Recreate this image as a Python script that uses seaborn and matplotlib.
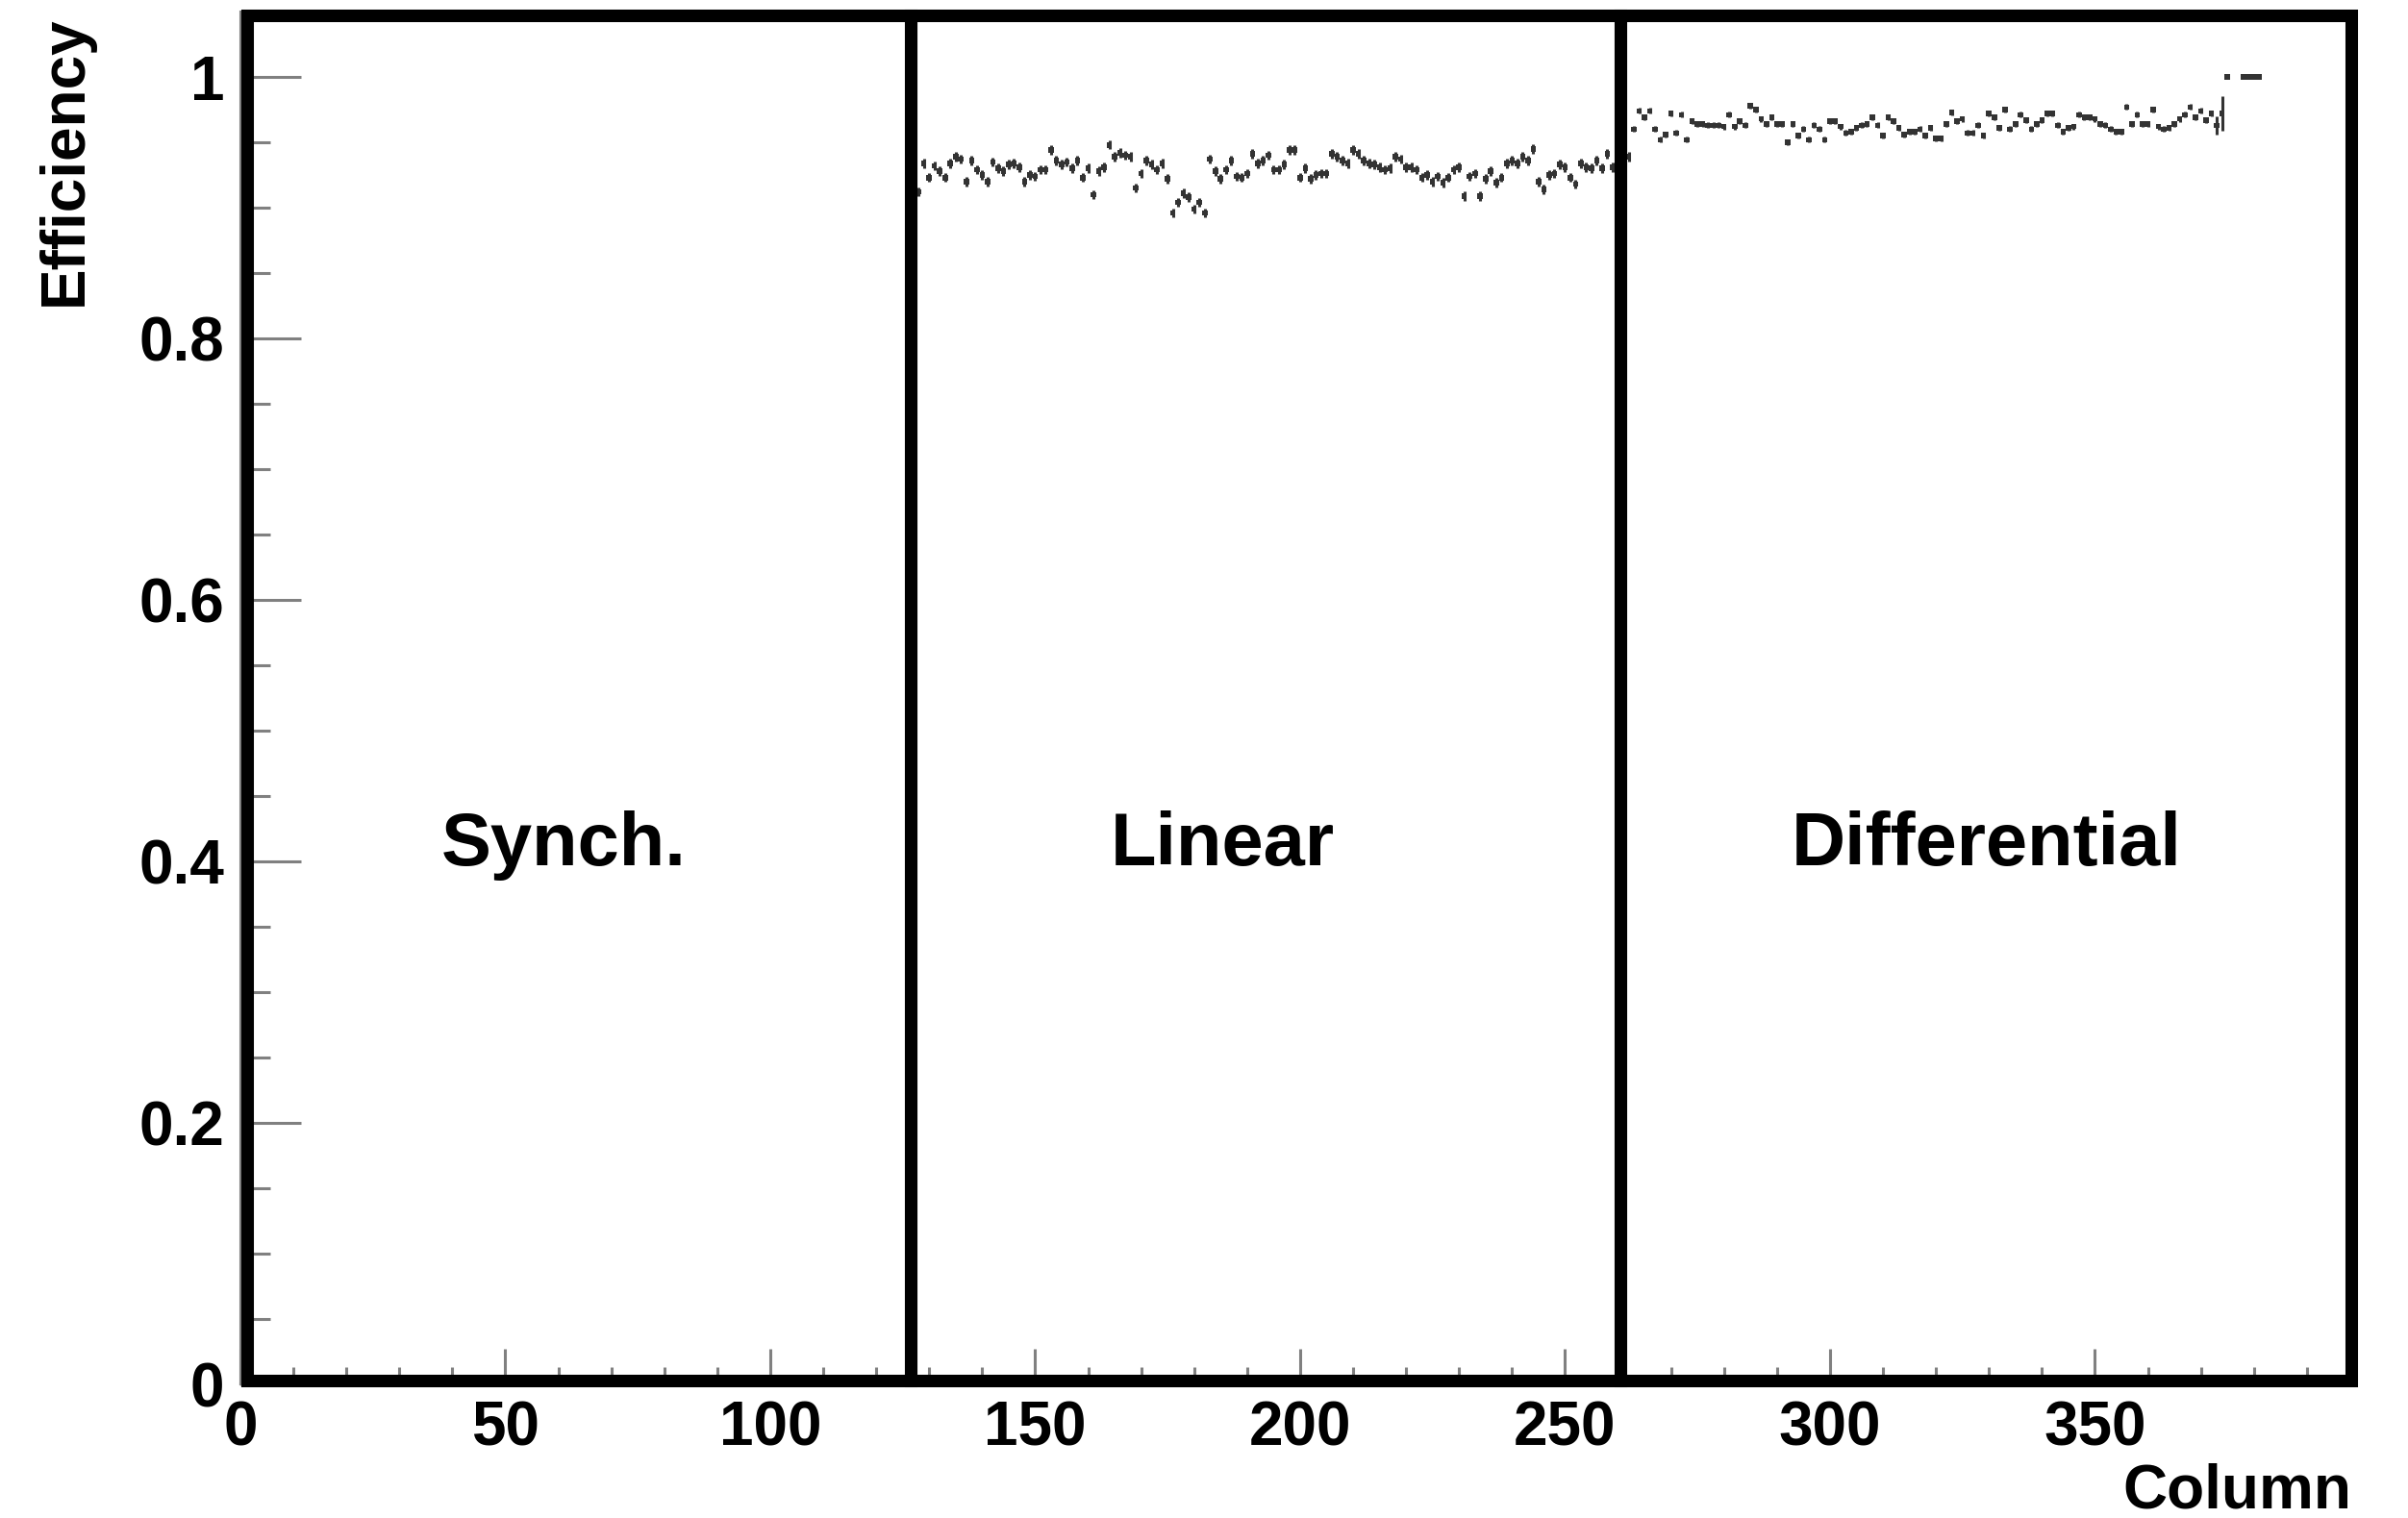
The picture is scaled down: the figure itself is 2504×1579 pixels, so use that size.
import numpy as np
import pandas as pd
import matplotlib
matplotlib.use("Agg")
import matplotlib.pyplot as plt
from matplotlib.patches import Rectangle
from matplotlib.ticker import MultipleLocator, FuncFormatter
import seaborn as sns

# ---- per-column efficiency, linear front-end (columns 128..262)
linear_start = 128
linear_eff = [
    0.912, 0.934, 0.923, 0.932, 0.928, 0.923, 0.934, 0.939, 0.937, 0.920,
    0.936, 0.929, 0.925, 0.920, 0.935, 0.930, 0.928, 0.933, 0.934, 0.931,
    0.920, 0.925, 0.924, 0.929, 0.929, 0.944, 0.936, 0.933, 0.935, 0.930,
    0.936, 0.923, 0.930, 0.910, 0.928, 0.931, 0.948, 0.939, 0.942, 0.940,
    0.939, 0.915, 0.926, 0.936, 0.933, 0.929, 0.934, 0.922, 0.896, 0.904,
    0.911, 0.908, 0.899, 0.904, 0.896, 0.937, 0.928, 0.922, 0.929, 0.936,
    0.924, 0.923, 0.926, 0.941, 0.934, 0.936, 0.940, 0.929, 0.929, 0.933,
    0.944, 0.944, 0.923, 0.930, 0.922, 0.925, 0.926, 0.926, 0.941, 0.939,
    0.936, 0.934, 0.944, 0.941, 0.936, 0.934, 0.933, 0.931, 0.929, 0.930,
    0.939, 0.937, 0.931, 0.931, 0.929, 0.923, 0.925, 0.920, 0.924, 0.919,
    0.923, 0.929, 0.931, 0.909, 0.924, 0.926, 0.909, 0.922, 0.928, 0.919,
    0.923, 0.934, 0.936, 0.934, 0.939, 0.936, 0.945, 0.920, 0.914, 0.925,
    0.926, 0.933, 0.931, 0.923, 0.918, 0.934, 0.931, 0.930, 0.936, 0.930,
    0.941, 0.931, 0.935, 0.939, 0.939,
]
linear_unc = 0.0035

# ---- per-column efficiency, differential front-end (columns 263..374)
diff_start = 263
diff_eff = [
    0.960, 0.974, 0.969, 0.974, 0.960, 0.952, 0.956, 0.972, 0.957, 0.971,
    0.952, 0.966, 0.964, 0.964, 0.963, 0.963, 0.963, 0.962, 0.971, 0.962,
    0.966, 0.963, 0.978, 0.975, 0.968, 0.964, 0.969, 0.964, 0.964, 0.950,
    0.964, 0.955, 0.960, 0.952, 0.963, 0.960, 0.952, 0.966, 0.966, 0.962,
    0.957, 0.958, 0.961, 0.963, 0.964, 0.969, 0.963, 0.955, 0.969, 0.966,
    0.961, 0.956, 0.958, 0.958, 0.960, 0.955, 0.961, 0.953, 0.953, 0.964,
    0.973, 0.966, 0.968, 0.957, 0.957, 0.963, 0.955, 0.972, 0.969, 0.961,
    0.975, 0.960, 0.964, 0.971, 0.967, 0.960, 0.964, 0.967, 0.972, 0.972,
    0.963, 0.958, 0.961, 0.962, 0.971, 0.969, 0.969, 0.968, 0.964, 0.963,
    0.960, 0.958, 0.958, 0.977, 0.964, 0.971, 0.964, 0.964, 0.975, 0.962,
    0.960, 0.961, 0.964, 0.968, 0.971, 0.977, 0.969, 0.974, 0.967, 0.972,
    0.963, 0.972,
]
diff_unc = 0.0022
diff_wide_unc = {373: 0.007, 374: 0.013}

# ---- edge columns with full efficiency
full_cols = [375, 378, 379, 380, 381]
full_eff = [1.0, 1.0, 1.0, 1.0, 1.0]

# ---- front-end regions
region_names = ["Synch.", "Linear", "Differential"]
region_edges = [1.2, 126.5, 260.5, 398.4]
region_label_x = [61.0, 185.3, 329.6]
region_label_y = 0.397
box_bottom, box_top = 0.003, 1.0467

# ---- assemble table
lin_cols = np.arange(linear_start, linear_start + len(linear_eff))
dif_cols = np.arange(diff_start, diff_start + len(diff_eff))
dif_err = [diff_wide_unc.get(c, diff_unc) for c in dif_cols]
df = pd.DataFrame({
    "Column": np.concatenate([lin_cols, dif_cols, full_cols]),
    "Efficiency": np.concatenate([linear_eff, diff_eff, full_eff]),
    "err": np.concatenate([[linear_unc] * len(lin_cols), dif_err,
                           [0.0] * len(full_cols)]),
})

sns.set_theme(style="white")
plt.rcParams["font.family"] = ["Liberation Sans", "DejaVu Sans"]

fig = plt.figure(figsize=(25.04, 15.79), dpi=100)
ax = fig.add_axes([0.0998, 0.0880, 0.8780, 0.9044])

point_color = "#333333"
ax.vlines(df["Column"], df["Efficiency"] - df["err"], df["Efficiency"] + df["err"],
          color=point_color, lw=2.2, zorder=3)
sns.scatterplot(data=df, x="Column", y="Efficiency", marker="s", s=16,
                color=point_color, edgecolor="none", legend=False, ax=ax, zorder=4)

ax.set_xlim(0, 399)
ax.set_ylim(0, 1.05)

# axes lines and ticks
for side in ("top", "right"):
    ax.spines[side].set_visible(False)
for side in ("left", "bottom"):
    ax.spines[side].set_color("#808080")
    ax.spines[side].set_linewidth(1.5)

ax.xaxis.set_major_locator(MultipleLocator(50))
ax.xaxis.set_minor_locator(MultipleLocator(10))
ax.yaxis.set_major_locator(MultipleLocator(0.2))
ax.yaxis.set_minor_locator(MultipleLocator(0.05))
ax.yaxis.set_major_formatter(FuncFormatter(lambda v, p: f"{v:g}"))
ax.tick_params(which="both", direction="in", color="#808080", width=2.2,
               left=True, bottom=True, top=False, right=False,
               labelsize=46, labelcolor="black")
ax.tick_params(axis="y", which="major", length=45, pad=12)
ax.tick_params(axis="y", which="minor", length=22)
ax.tick_params(axis="x", which="major", length=27, pad=12)
ax.tick_params(axis="x", which="minor", length=13)
for lab in ax.get_xticklabels() + ax.get_yticklabels():
    lab.set_fontweight("bold")

ax.set_xlabel("Column", fontsize=46, fontweight="bold", loc="right", color="black")
ax.xaxis.set_label_coords(0.9985, -0.078)
ax.xaxis.label.set_verticalalignment("center")
ax.set_ylabel("Efficiency", fontsize=46, fontweight="bold", loc="top", color="black")
ax.yaxis.set_label_coords(-0.083, 0.997)
ax.yaxis.label.set_verticalalignment("center")

# region boxes and names
for i, name in enumerate(region_names):
    x0, x1 = region_edges[i], region_edges[i + 1]
    ax.add_patch(Rectangle((x0, box_bottom), x1 - x0, box_top - box_bottom,
                           fill=False, ec="black", lw=9.4, joinstyle="miter",
                           clip_on=False, zorder=5))
    ax.text(region_label_x[i], region_label_y, name, ha="center", va="baseline",
            fontsize=56, fontweight="bold", color="black", zorder=6)

fig.savefig("out.png", dpi=100, facecolor="white")
